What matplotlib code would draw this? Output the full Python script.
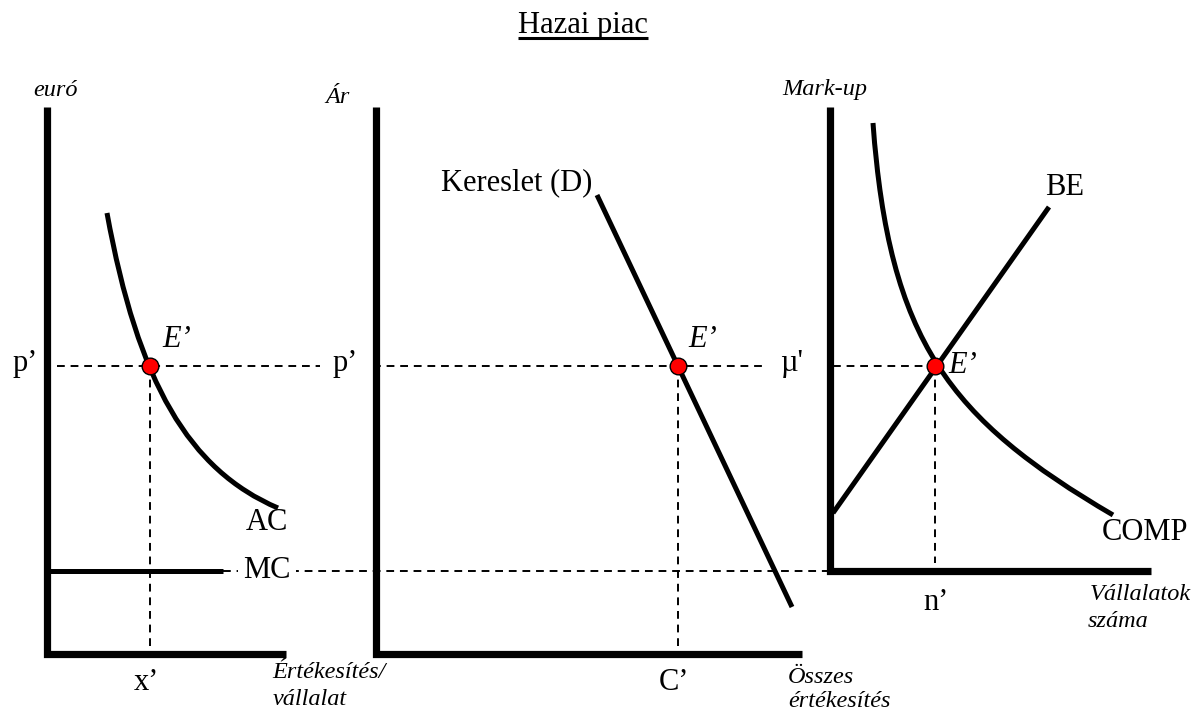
import matplotlib.pyplot as plt
from matplotlib.path import Path
from matplotlib.patches import PathPatch

plt.rcParams['font.family'] = ['Liberation Serif', 'DejaVu Serif']

# The diagram is laid out in picture units: x to the right, y downward.
# Three panels: one firm's costs, the market demand, and the firms / mark-up panel.

# left panel: one firm
left_axis_x = [47, 47, 286]
left_axis_y = [107, 654, 654]
# AC curve as one cubic Bezier: start, two control points, end
ac_x = [107, 138, 189, 278]
ac_y = [213, 383, 470, 508]
mc_x = [50, 223]

# middle panel: market demand
mid_axis_x = [376, 376, 802]
mid_axis_y = [107, 654, 654]
demand_x = [597, 792]
demand_y = [195, 607]

# right panel: number of firms and mark-up
right_axis_x = [830, 830, 1151]
right_axis_y = [107, 571, 571]
# COMP curve as one cubic Bezier
comp_x = [873, 889, 949, 1113]
comp_y = [123, 341, 419, 515]
be_x = [833, 1049]
be_y = [513, 207]

# equilibrium points E' in each panel and the shared levels
eq_x = [150, 678, 935]
eq_y = [366, 366, 366]
price_level = 366
mc_level = 571

# dashed guide lines
price_guides = [(57, 320), (373, 767), (833, 935)]
mc_guide = (223, 830)
drop_bottoms = [654, 654, 571]

fig = plt.figure(figsize=(11.91, 7.10), dpi=100)
ax = fig.add_axes([0, 0, 1, 1])
ax.set_xlim(0, 1191)
ax.set_ylim(710, 0)
ax.axis('off')

axis_kw = dict(color='black', lw=5.2, solid_joinstyle='miter', solid_capstyle='butt')
curve_kw = dict(color='black', lw=3.6, solid_capstyle='butt')
dash_kw = dict(color='black', lw=1.4, dashes=(4, 3))

for xs, ys in [(left_axis_x, left_axis_y), (mid_axis_x, mid_axis_y), (right_axis_x, right_axis_y)]:
    ax.plot(xs, ys, **axis_kw)

bez_codes = [Path.MOVETO, Path.CURVE4, Path.CURVE4, Path.CURVE4]
for xs, ys in [(ac_x, ac_y), (comp_x, comp_y)]:
    path = Path(list(zip(xs, ys)), bez_codes)
    ax.add_patch(PathPatch(path, fc='none', ec='black', lw=3.6, capstyle='butt'))

ax.plot(mc_x, [mc_level, mc_level], **curve_kw)
ax.plot(demand_x, demand_y, **curve_kw)
ax.plot(be_x, be_y, **curve_kw)

for x0, x1 in price_guides:
    ax.plot([x0, x1], [price_level, price_level], **dash_kw)
ax.plot(list(mc_guide), [mc_level, mc_level], **dash_kw)
for x, y, yb in zip(eq_x, eq_y, drop_bottoms):
    ax.plot([x, x], [y, yb - 8], **dash_kw)

ax.plot(eq_x, eq_y, 'o', ms=12, mfc='#ff0000', mec='black', mew=1, zorder=5)

big = 22
small = 17.5
label_kw = dict(fontsize=big, va='baseline')
ital_kw = dict(fontsize=small, va='baseline', style='italic')

title = ax.text(583, 33, 'Hazai piac', ha='center', **label_kw)

# axis titles
ax.text(33, 96, 'euró', ha='left', **ital_kw)
ax.text(325, 103, 'Ár', ha='left', **ital_kw)
ax.text(782, 95, 'Mark-up', ha='left', **ital_kw)
ax.text(272, 678, 'Értékesítés/', ha='left', **ital_kw)
ax.text(273, 705, 'vállalat', ha='left', **ital_kw)
ax.text(788, 683, 'Összes', ha='left', **ital_kw)
ax.text(788, 707, 'értékesítés', ha='left', **ital_kw)
ax.text(1090, 600, 'Vállalatok', ha='left', **ital_kw)
ax.text(1088, 627, 'száma', ha='left', **ital_kw)

# point and curve labels
for ex, ey in [(162, 347), (688, 347), (948, 373)]:
    ax.text(ex, ey, 'E’', ha='left', fontsize=big, va='baseline', style='italic')
ax.text(13, 371, 'p’', ha='left', **label_kw)
ax.text(333, 371, 'p’', ha='left', **label_kw)
ax.text(780, 371, "µ'", ha='left', **label_kw)
ax.text(267, 530, 'AC', ha='center', **label_kw)
ax.text(267, 578, 'MC', ha='center', bbox=dict(fc='white', ec='none', pad=4), zorder=4, **label_kw)
ax.text(146, 690, 'x’', ha='center', **label_kw)
ax.text(674, 690, 'C’', ha='center', **label_kw)
ax.text(936, 610, 'n’', ha='center', **label_kw)
ax.text(517, 190, 'Kereslet (D)', ha='center', **label_kw)
ax.text(1065, 195, 'BE', ha='center', **label_kw)
ax.text(1145, 540, 'COMP', ha='center', **label_kw)

# underline the title from its drawn extent
fig.canvas.draw()
bb = title.get_window_extent().transformed(ax.transData.inverted())
ax.plot([bb.x0, bb.x1], [38, 38], color='black', lw=2.2, solid_capstyle='butt')

fig.savefig('out.png', dpi=100)
